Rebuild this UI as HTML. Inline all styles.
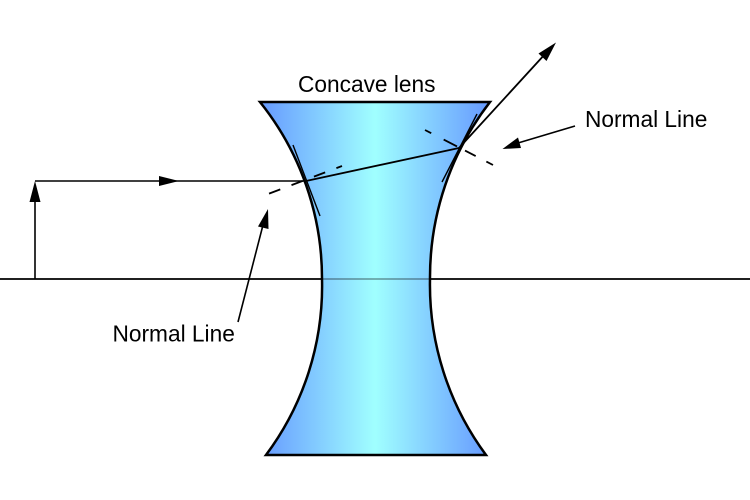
<!DOCTYPE html>
<html><head><meta charset="utf-8"><style>
html,body{margin:0;padding:0;background:#fff;}
svg{display:block;}
text{font-family:"Liberation Sans",Arial,sans-serif;font-size:22.7px;fill:#000;}
</style></head><body>
<svg width="750" height="500" viewBox="0 0 750 500" xmlns="http://www.w3.org/2000/svg">
<defs>
<linearGradient id="g" x1="260" y1="0" x2="490" y2="0" gradientUnits="userSpaceOnUse">
<stop offset="0" stop-color="#6699ff"/>
<stop offset="0.5" stop-color="#a0ffff"/>
<stop offset="1" stop-color="#6699ff"/>
</linearGradient>
</defs>
<!-- axis -->
<line x1="0" y1="279" x2="750" y2="279" stroke="#000" stroke-width="1.8"/>
<!-- lens -->
<path d="M260,102 L490,102 A286 286 0 0 0 430,279 A286 286 0 0 0 486,455 L266,455 A282 282 0 0 0 322,279 A282 282 0 0 0 260,102 Z" fill="url(#g)" stroke="#000" stroke-width="2.5" stroke-linejoin="miter"/>
<line x1="323" y1="279" x2="429" y2="279" stroke="#000" stroke-opacity="0.35" stroke-width="1.8"/>
<text x="298" y="92">Concave lens</text>
<!-- object arrow -->
<line x1="35" y1="279" x2="35" y2="195" stroke="#000" stroke-width="1.6"/>
<polygon points="35,181 29.5,202 40.5,202" fill="#000"/>
<!-- incoming ray -->
<line x1="35" y1="181" x2="306" y2="181" stroke="#000" stroke-width="1.6"/>
<polygon points="179,181 159,176 159,186" fill="#000"/>
<!-- refracted ray -->
<line x1="306" y1="181" x2="459" y2="148" stroke="#000" stroke-width="1.8"/>
<!-- exit ray -->
<line x1="459" y1="148" x2="546" y2="53" stroke="#000" stroke-width="1.8"/>
<polygon points="556,42.5 546.5,61 538.5,53.5" fill="#000"/>
<!-- tangents -->
<line x1="293" y1="145" x2="320" y2="216" stroke="#000" stroke-width="1.4"/>
<line x1="477" y1="114" x2="442" y2="182" stroke="#000" stroke-width="1.4"/>
<!-- normals dashed -->
<line x1="342" y1="166" x2="268" y2="194" stroke="#000" stroke-width="1.8" stroke-dasharray="6 12 12 12 12 12 12 12"/>
<line x1="425" y1="130" x2="493" y2="165" stroke="#000" stroke-width="1.8" stroke-dasharray="7 14 15 9 12 12 8 20"/>
<!-- pointer arrows -->
<line x1="238" y1="322" x2="263" y2="225" stroke="#000" stroke-width="1.6"/>
<polygon points="268,209 268.5,229 258,226.5" fill="#000"/>
<line x1="575" y1="126" x2="518" y2="143" stroke="#000" stroke-width="1.6"/>
<polygon points="502.5,149 518,137.5 521,148" fill="#000"/>
<text x="112.5" y="341.5">Normal Line</text>
<text x="585" y="127">Normal Line</text>
</svg>
</body></html>
